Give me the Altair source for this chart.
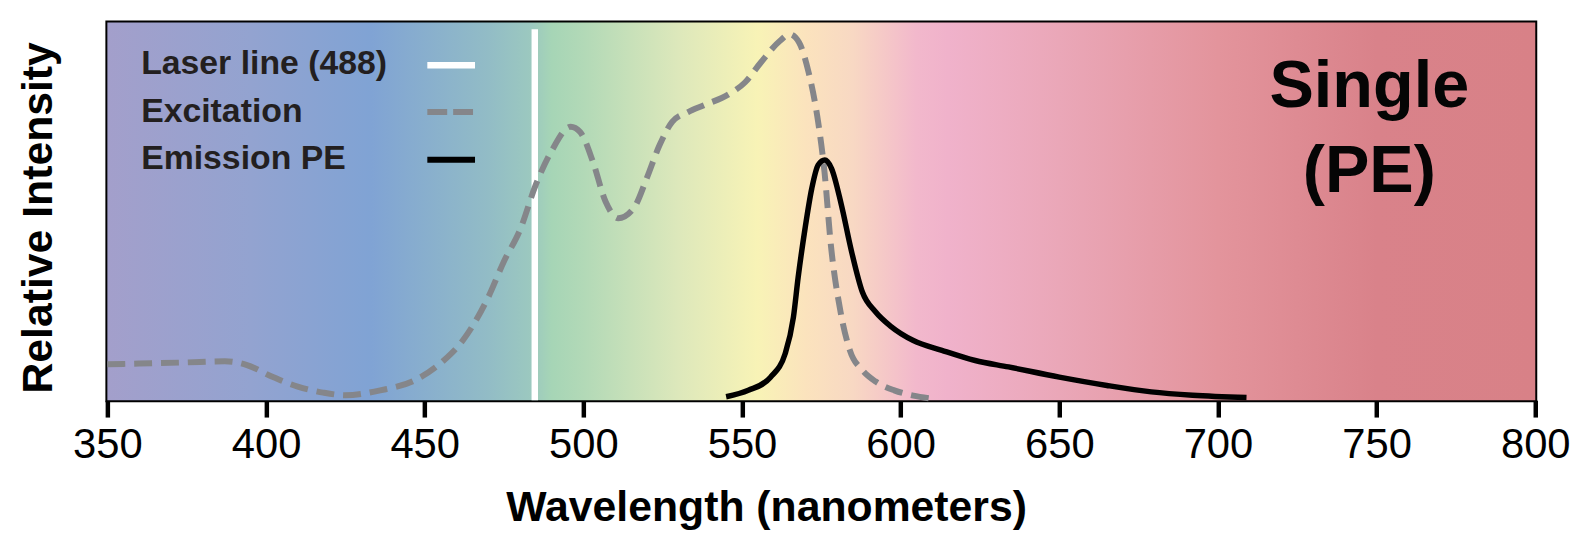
import altair as alt
import pandas as pd

# ---- data ----
exc_nm = [350, 360, 375, 387, 394, 402, 410, 418, 425, 436, 447, 456, 462, 470, 475,
          480, 485, 490, 496, 499, 503, 507, 511, 516, 520, 524, 528, 533, 538, 546,
          551, 556, 562, 565, 568, 571, 574, 576, 578, 581, 584, 588, 592, 598, 604, 609]
exc_v = [0.095, 0.097, 0.100, 0.103, 0.093, 0.062, 0.036, 0.020, 0.013, 0.026, 0.053,
         0.105, 0.158, 0.272, 0.368, 0.450, 0.570, 0.660, 0.724, 0.710, 0.632, 0.526,
         0.482, 0.510, 0.588, 0.675, 0.737, 0.763, 0.781, 0.811, 0.842, 0.895, 0.952,
         0.969, 0.947, 0.868, 0.737, 0.605, 0.412, 0.237, 0.132, 0.079, 0.050, 0.026,
         0.012, 0.005]

em_nm = [545, 552, 559, 563.6, 566.2, 567.7, 569.9, 572, 574, 576.1, 578.2, 581.3,
         584.5, 588, 592, 597, 604, 613, 623.5, 634, 650, 665, 679, 692, 709]
em_v = [0.009, 0.026, 0.061, 0.123, 0.219, 0.325, 0.456, 0.561, 0.623, 0.636, 0.614,
        0.518, 0.395, 0.285, 0.235, 0.195, 0.158, 0.132, 0.105, 0.088, 0.061, 0.039,
        0.022, 0.013, 0.007]

laser_nm = [484.7]
laser_bottom = [0.0]
laser_top = [0.982]

legend_labels = ["Laser line (488)", "Excitation", "Emission PE"]
panel_label = ["Single", "(PE)"]

x_ticks = [350, 400, 450, 500, 550, 600, 650, 700, 750, 800]

# background spectrum gradient (wavelength -> colour)
grad_nm = [350, 395, 433, 470, 484, 490, 500, 530, 555, 570, 585, 605, 615, 650, 700, 750, 800]
grad_col = ["#a39fcb", "#93a3d0", "#80a3d4", "#92bcc6", "#9cc9bf", "#a6d5b6", "#b2d9b7",
            "#dde8bb", "#f8f3b6", "#fbe3bd", "#f8d8c3", "#f2b8cc", "#f0b2cb", "#eaa7b8",
            "#e3949c", "#d9828a", "#d88187"]

W, H = 1437, 380
XMIN, XMAX = 350, 800

xscale = alt.Scale(domain=[XMIN, XMAX], nice=False, zero=False)
yscale = alt.Scale(domain=[0, 1], nice=False, zero=False)

exc_df = pd.DataFrame({"nm": exc_nm, "v": exc_v})
em_df = pd.DataFrame({"nm": em_nm, "v": em_v})
laser_df = pd.DataFrame({"nm": laser_nm, "bottom": laser_bottom, "top": laser_top})
bg_df = pd.DataFrame({"x0": [XMIN], "x1": [XMAX], "y0": [0.0], "y1": [1.0]})

xaxis = alt.Axis(title="Wavelength (nanometers)", values=x_ticks, format="d", titleX=663)
yaxis = alt.Axis(title="Relative Intensity", labels=False, ticks=False, grid=False,
                 domain=False, titleY=196)

stops = [alt.GradientStop(color=c, offset=(n - XMIN) / (XMAX - XMIN))
         for n, c in zip(grad_nm, grad_col)]

background = alt.Chart(bg_df).mark_rect(
    color=alt.Gradient(gradient="linear", stops=stops, x1=0, x2=1, y1=0, y2=0)
).encode(
    x=alt.X("x0:Q", scale=xscale, axis=xaxis),
    x2="x1:Q",
    y=alt.Y("y0:Q", scale=yscale, axis=yaxis),
    y2="y1:Q",
)

laser = alt.Chart(laser_df).mark_rule(color="white", strokeWidth=6.5).encode(
    x=alt.X("nm:Q", scale=xscale),
    y=alt.Y("bottom:Q", scale=yscale),
    y2="top:Q",
)

excitation = alt.Chart(exc_df).mark_line(
    color="#85868a", strokeWidth=6, strokeDash=[18, 9], interpolate="monotone"
).encode(x=alt.X("nm:Q", scale=xscale), y=alt.Y("v:Q", scale=yscale))

emission = alt.Chart(em_df).mark_line(
    color="black", strokeWidth=5.5, interpolate="monotone"
).encode(x=alt.X("nm:Q", scale=xscale), y=alt.Y("v:Q", scale=yscale))

# legend (labels left, swatches right)
leg_y = [42, 90, 137]
leg_layers = []
for lab, yy in zip(legend_labels, leg_y):
    leg_layers.append(
        alt.Chart(pd.DataFrame({"t": [lab]})).mark_text(
            align="left", baseline="middle", font="Liberation Sans", fontWeight="bold",
            fontSize=34, color="#231f20"
        ).encode(text="t:N", x=alt.value(34), y=alt.value(yy))
    )

sw_base = alt.Chart(pd.DataFrame({"a": [0]}))
sw_laser = sw_base.mark_rule(color="white", strokeWidth=6.5).encode(
    x=alt.value(322), x2=alt.value(370), y=alt.value(43))
sw_exc = sw_base.mark_rule(color="#85868a", strokeWidth=6, strokeDash=[20, 6]).encode(
    x=alt.value(322), x2=alt.value(368), y=alt.value(90))
sw_em = sw_base.mark_rule(color="black", strokeWidth=6).encode(
    x=alt.value(322), x2=alt.value(370), y=alt.value(138))

panel = alt.Chart(pd.DataFrame({"t": ["Single"]})).mark_text(
    align="center", baseline="middle", font="Liberation Sans", fontWeight="bold",
    fontSize=67, color="#050505", lineHeight=86, text=panel_label
).encode(x=alt.value(1270), y=alt.value(65))

chart = alt.layer(
    background, laser, excitation, emission, *leg_layers, sw_laser, sw_exc, sw_em, panel
).properties(
    width=W, height=H,
    padding={"left": 10, "top": 12, "right": 5, "bottom": 0},
).configure_view(
    stroke="black", strokeWidth=4
).configure_axis(
    grid=False,
    labelFont="Liberation Sans",
    labelFontSize=42,
    labelColor="black",
    titleFont="Liberation Sans",
    titleFontWeight="bold",
    titleFontSize=43,
    titleColor="black",
).configure_axisX(
    domain=False, ticks=True, tickColor="black", tickWidth=4.5, tickSize=17,
    labelPadding=8, titlePadding=21, labelFlush=False,
).configure_axisY(
    titlePadding=47,
)

chart.save("out.html", embed_options={"renderer": "svg", "actions": False})
